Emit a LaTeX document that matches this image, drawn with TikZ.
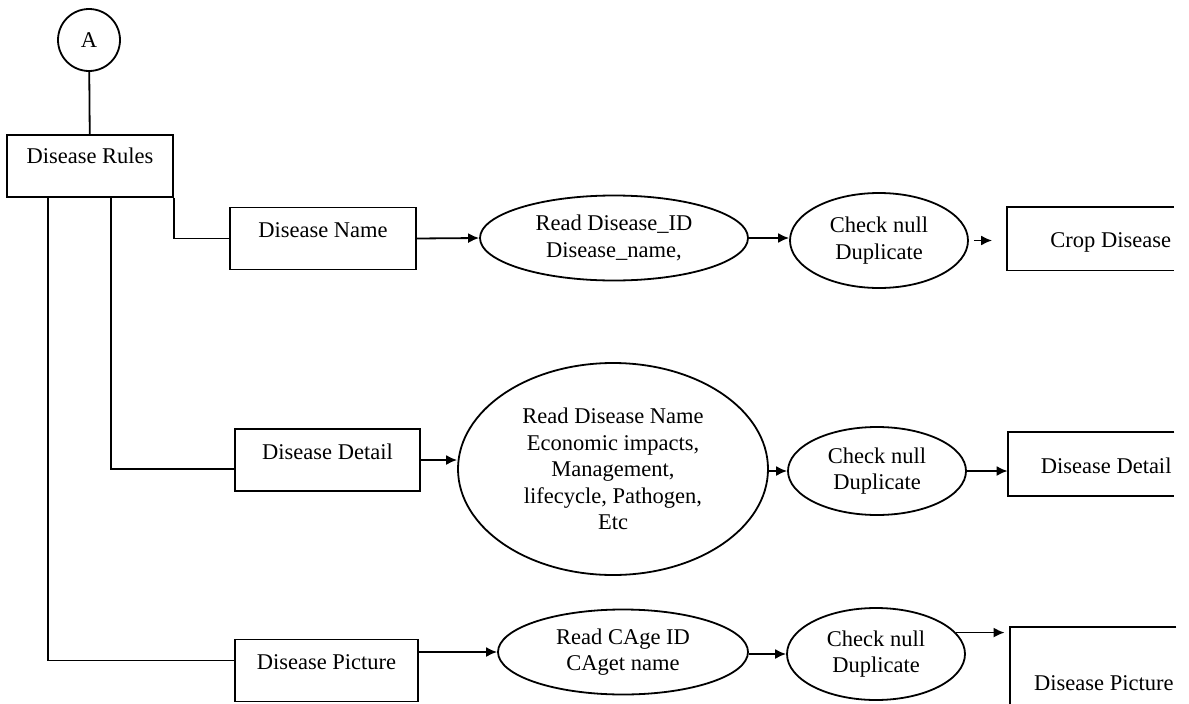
\documentclass[tikz,border=0pt]{standalone}
\usepackage{fontspec}
\setmainfont{Liberation Serif}
\usetikzlibrary{arrows.meta,shapes.geometric}

\begin{document}
\begin{tikzpicture}[x=1pt, y=-1pt, >={Latex[length=11pt,width=10pt]}, line width=1.8pt,
        font=\fontsize{22.5}{26.5}\selectfont,
        procbox/.style={draw, rectangle, inner sep=0pt, text height=30pt, text depth=32pt},
        task/.style={draw, ellipse, inner sep=0pt, align=center},
        store/.style={inner xsep=2pt, inner ysep=0pt, text width=161pt, align=flush right, text height=40pt, text depth=22pt}]
        \useasboundingbox (0,0) rectangle (1189,704);
        \node[draw, circle, minimum size=62pt, inner sep=0pt] (conn-a) at (89,40) {A};
        \node[procbox, minimum width=166pt, text height=28pt, text depth=34pt] (rules) at (90,166) {Disease Rules};
        \node[procbox, minimum width=186pt] (name) at (323,238.5) {Disease Name};
        \node[procbox, minimum width=185pt] (detail) at (327.5,460) {Disease Detail};
        \node[procbox, minimum width=183pt] (pic) at (326.5,670.5) {Disease Picture};
        \node[task, minimum width=268pt, minimum height=85pt] (read-1) at (614,238) {Read Disease\_ID\\Disease\_name,};
        \node[task, minimum width=310pt, minimum height=212pt] (read-2) at (613,469) {Read Disease Name\\Economic impacts,\\Management,\\lifecycle, Pathogen,\\Etc};
        \node[task, minimum width=250pt, minimum height=85pt] (read-3) at (623,652) {Read CAge ID\\CAget name};
        \foreach \n/\x/\y/\h in {1/879/240.5/95, 2/877/471/88, 3/876/654/92}
            \node[task, minimum width=178pt, minimum height=\h pt] (check-\n) at (\x,\y) {Check null\\Duplicate};
        \node[store] (crop-store) at (1090.5,238.5) {Crop Disease};
        \node[store] (detail-store) at (1091,464) {Disease Detail};
        \node[store, text height=62pt, text depth=14pt] (pic-store) at (1093,666) {Disease Picture};
        \foreach \s in {crop-store, detail-store}
            \draw (\s.north east) -- (\s.north west) -- (\s.south west) -- (\s.south east);
        \draw (pic-store.north east) -- (pic-store.north west) -- (pic-store.south west);
        % tree from the rules box
        \draw (conn-a) -- (rules);
        \draw (rules.south east) |- (name.west);
        \draw ([xshift=105pt]rules.south west) |- ([yshift=-9pt]detail.west);
        \draw ([xshift=42pt]rules.south west) |- ([yshift=10pt]pic.west);
        % flows
        \draw[->] (name.east) -- (read-1.west);
        \draw[->] (read-1.east) -- (read-1.east -| check-1.west);
        \draw[->, shorten <=5pt, shorten >=15pt] (check-1.east) -- (check-1.east -| crop-store.west);
        \draw[->] (detail.east) -- (detail.east -| read-2.west);
        \draw[->] (check-2.west -| read-2.east) -- (check-2.west);
        \draw[->] (check-2.east) -- (check-2.east -| detail-store.west);
        \draw[->] (read-3.west -| pic.east) -- (read-3.west);
        \draw[->] (check-3.west -| read-3.east) -- (check-3.west);
        \draw[->] (check-3.15) -- ([xshift=-5pt]check-3.15 -| pic-store.west);
    \end{tikzpicture}
\end{document}
